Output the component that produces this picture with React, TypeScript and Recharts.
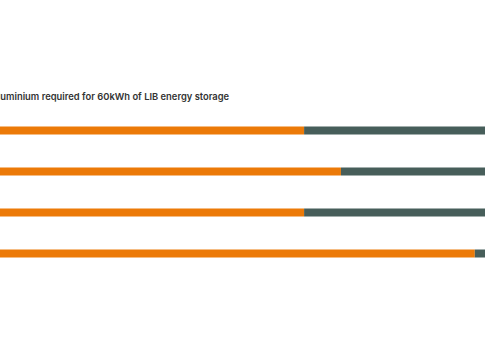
import { BarChart, Bar, XAxis, YAxis } from "recharts";

const categories = ["Scenario A", "Scenario B", "Scenario C", "Scenario D"];
const primaryAl = [62.7, 70.3, 62.7, 97.9];
const recycledAl = [37.3, 29.7, 37.3, 2.1];

const data = categories.map((name, i) => ({
  name,
  primary: primaryAl[i],
  recycled: recycledAl[i],
}));

export default function App() {
  return (
    <div
      style={{
        position: "fixed",
        left: 0,
        top: 0,
        width: 485,
        height: 360,
        overflow: "hidden",
        background: "#fff",
      }}
    >
      <div
        style={{
          position: "absolute",
          left: -9,
          top: 91,
          fontFamily: "Inter, sans-serif",
          fontSize: 9.4,
          fontWeight: 600,
          color: "#333",
          whiteSpace: "nowrap",
        }}
      >
        Aluminium required for 60kWh of LIB energy storage
      </div>
      <BarChart
        width={485}
        height={360}
        data={data}
        layout="vertical"
        margin={{ top: 109.5, right: 0, bottom: 86.5, left: 0 }}
      >
        <XAxis type="number" hide domain={[0, 100]} />
        <YAxis type="category" dataKey="name" hide />
        <Bar
          dataKey="primary"
          stackId="a"
          fill="#EC7A08"
          barSize={8}
          isAnimationActive={false}
        />
        <Bar
          dataKey="recycled"
          stackId="a"
          fill="#475E5A"
          barSize={8}
          isAnimationActive={false}
        />
      </BarChart>
    </div>
  );
}
